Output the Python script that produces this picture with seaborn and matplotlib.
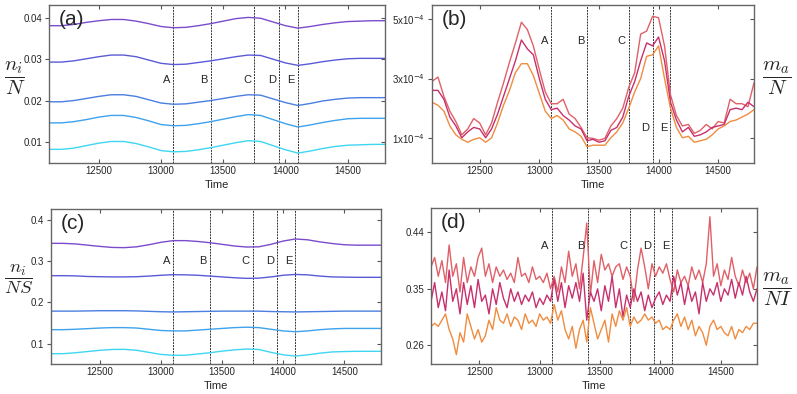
import numpy as np
import pandas as pd
import matplotlib
matplotlib.use('Agg')
import matplotlib.pyplot as plt
import matplotlib.lines as mlines
import seaborn as sns

# smooth panels (a) and (c): one value every 100 time units, 12100..14800
t_smooth = np.arange(12100, 14801, 100)

a_series = [
    [.0381, .0381, .0384, .0389, .0393, .0396, .0396, .0392, .0386, .0379, .0376, .0377, .0381, .0386,
     .0392, .0398, .0401, .0399, .0390, .0381, .0375, .0379, .0384, .0388, .0391, .0392, .0393, .0393],
    [.0293, .0293, .0296, .0301, .0306, .0310, .0310, .0306, .0298, .0290, .0287, .0288, .0292, .0296,
     .0301, .0306, .0310, .0309, .0300, .0291, .0285, .0289, .0294, .0298, .0301, .0302, .0302, .0302],
    [.0197, .0197, .0200, .0205, .0210, .0214, .0214, .0210, .0202, .0194, .0191, .0192, .0196, .0200,
     .0205, .0210, .0214, .0213, .0204, .0195, .0188, .0193, .0199, .0203, .0206, .0207, .0207, .0207],
    [.0146, .0146, .0149, .0154, .0160, .0164, .0164, .0159, .0151, .0142, .0139, .0140, .0144, .0149,
     .0155, .0161, .0166, .0164, .0154, .0144, .0136, .0141, .0147, .0152, .0156, .0157, .0157, .0157],
    [.0082, .0082, .0085, .0091, .0097, .0101, .0101, .0096, .0088, .0079, .0076, .0077, .0081, .0086,
     .0092, .0098, .0103, .0101, .0091, .0081, .0073, .0078, .0084, .0089, .0092, .0093, .0094, .0094],
]

c_series = [
    [.3434, .3434, .342, .339, .336, .3335, .333, .335, .340, .346, .350, .350, .348, .345,
     .341, .337, .3345, .335, .341, .349, .354, .352, .347, .343, .340, .339, .339, .339],
    [.265, .265, .2645, .263, .2625, .262, .262, .2625, .264, .266, .2674, .267, .266, .264,
     .262, .260, .2585, .259, .262, .266, .268, .267, .264, .262, .2615, .261, .261, .261],
    [.179, .179, .179, .1795, .180, .180, .180, .1795, .1785, .1775, .177, .1775, .178, .1785,
     .179, .179, .179, .179, .178, .1775, .177, .1775, .178, .1785, .179, .179, .179, .179],
    [.134, .134, .135, .1365, .138, .139, .139, .138, .135, .132, .131, .131, .133, .135,
     .137, .139, .140, .139, .135, .131, .129, .131, .134, .136, .137, .137, .137, .137],
    [.0758, .0758, .078, .081, .084, .086, .0863, .084, .079, .074, .0718, .072, .075, .078,
     .082, .085, .087, .086, .079, .073, .070, .073, .077, .080, .081, .0815, .0815, .0815],
]

# panel (b): every 50 time units, values in units of 1e-4
t_b = np.arange(12100, 14801, 50)
b_red = [2.9, 3.05, 2.4, 1.9, 1.55, 1.1, 1.3, 1.65, 1.5, 1.1, 1.5, 2.2, 2.85, 3.55, 4.2, 4.9, 4.65, 4.1,
         3.3, 2.55, 2.15, 2.15, 2.3, 1.8, 1.65, 1.35, 1.0, 0.98, 0.92, 0.98, 1.4, 1.65, 2.0, 2.7, 3.2, 4.5,
         4.6, 5.1, 5.05, 4.1, 2.45, 1.75, 1.4, 1.45, 1.15, 1.25, 1.45, 1.3, 1.55, 1.5, 2.3, 2.15, 2.15,
         2.05, 2.85]
b_magenta = [2.6, 2.6, 2.3, 1.7, 1.4, 1.0, 1.2, 1.35, 1.3, 1.0, 1.3, 1.8, 2.4, 3.0, 3.6, 4.3, 4.0, 3.8,
             3.0, 2.3, 1.95, 2.0, 1.75, 1.6, 1.4, 1.3, 0.9, 0.95, 0.85, 0.9, 1.25, 1.35, 1.7, 2.4, 2.9,
             3.6, 4.2, 4.1, 4.4, 3.6, 2.2, 1.6, 1.2, 1.35, 1.05, 1.1, 1.2, 1.35, 1.4, 1.45, 1.95, 2.0,
             1.95, 2.2, 2.05]
b_orange = [2.2, 2.1, 1.9, 1.4, 1.1, 0.95, 0.85, 0.95, 1.0, 0.85, 1.0, 1.5, 2.1, 2.6, 3.2, 3.5, 3.5, 3.1,
            2.5, 1.9, 1.65, 1.75, 1.6, 1.3, 1.2, 1.05, 0.7, 0.75, 0.75, 0.75, 1.0, 1.2, 1.5, 2.0, 2.55,
            3.0, 3.75, 3.8, 4.1, 3.0, 2.0, 1.35, 1.0, 1.05, 0.85, 0.9, 0.95, 1.1, 1.3, 1.4, 1.55, 1.6,
            1.7, 1.8, 1.95]

# panel (d): every 30 time units
t_d = np.arange(12100, 14801, 30)
d_red = [.385, .40, .37, .395, .36, .42, .37, .39, .345, .40,
         .36, .385, .37, .40, .415, .37, .39, .36, .385, .37,
         .38, .365, .375, .36, .40, .37, .375, .36, .385, .365,
         .37, .36, .375, .35, .37, .345, .385, .36, .41, .37,
         .39, .35, .40, .455, .34, .395, .36, .405, .38, .39,
         .37, .385, .39, .365, .385, .37, .33, .38, .415, .385,
         .35, .39, .37, .385, .375, .39, .365, .345, .38, .36,
         .37, .355, .385, .365, .38, .36, .39, .465, .37, .39,
         .355, .38, .365, .40, .37, .355, .38, .36, .375, .35, .385]
d_magenta = [.33, .36, .32, .345, .315, .38, .33, .35, .31, .36,
             .325, .355, .32, .365, .33, .34, .31, .35, .325, .36,
             .335, .32, .35, .33, .345, .325, .34, .33, .345, .32,
             .335, .325, .34, .33, .365, .33, .36, .32, .355, .335,
             .36, .33, .375, .30, .345, .33, .35, .315, .355, .33,
             .37, .32, .35, .305, .34, .32, .35, .33, .345, .315,
             .34, .32, .335, .345, .325, .34, .33, .37, .34, .36,
             .325, .355, .33, .345, .31, .36, .33, .35, .34, .36,
             .33, .35, .34, .365, .335, .36, .34, .37, .345, .33, .35]
d_orange = [.29, .295, .29, .30, .31, .285, .27, .245, .28, .265,
            .31, .29, .27, .285, .265, .275, .30, .285, .32, .30,
            .295, .31, .29, .305, .30, .285, .31, .295, .30, .29,
            .31, .30, .305, .295, .325, .30, .315, .285, .27, .29,
            .255, .285, .30, .265, .32, .295, .27, .285, .30, .265,
            .31, .29, .315, .30, .32, .29, .305, .295, .30, .31,
            .30, .305, .295, .30, .285, .29, .285, .30, .31, .29,
            .305, .285, .30, .275, .29, .28, .26, .29, .30, .285,
            .29, .28, .275, .29, .27, .285, .28, .29, .285, .295, .295]

event_times = [13100, 13400, 13750, 13950, 14100]
event_names = ['A', 'B', 'C', 'D', 'E']

blues = ['#7a4ccc', '#5a5ad8', '#4a7ee0', '#3ea2ec', '#3fd6f2']
warm = {'red': '#e06068', 'magenta': '#c8306c', 'orange': '#f08c40'}

sns.set_style('ticks')
plt.rcParams['font.family'] = ['Liberation Sans', 'DejaVu Sans']

fig = plt.figure(figsize=(7.97, 3.94), dpi=100)
ax_a = fig.add_axes([0.0615, 0.5863, 0.4216, 0.401])
ax_b = fig.add_axes([0.542, 0.5863, 0.404, 0.401])
ax_c = fig.add_axes([0.064, 0.0761, 0.414, 0.3934])
ax_d = fig.add_axes([0.5408, 0.0761, 0.409, 0.396])


def style_axes(ax, letter):
    ax.set_xlim(12100, 14800)
    ax.set_xticks([12500, 13000, 13500, 14000, 14500])
    ax.tick_params(axis='both', labelsize=7, length=3, width=0.8, color='#555555', pad=2)
    ax.tick_params(axis='x', direction='in', top=True)
    ax.tick_params(axis='y', direction='out', right=True)
    # right-hand ticks point inwards, left-hand ones outwards
    for tk in ax.yaxis.get_major_ticks():
        tk.tick2line.set_marker(mlines.TICKLEFT)
    for s in ax.spines.values():
        s.set_color('#666666')
        s.set_linewidth(1.0)
    ax.set_xlabel('Time', fontsize=8, labelpad=3)
    ax.set_ylabel('')
    ax.text(0.03, 0.97, letter, transform=ax.transAxes, fontsize=15, va='top', ha='left')
    if ax.get_legend():
        ax.get_legend().remove()


def events(ax, ys):
    for t, name, y in zip(event_times, event_names, ys):
        ax.axvline(t, color='#333333', lw=0.7, ls=(0, (2, 1)), zorder=1)
        ax.text(t - 25, y, name, fontsize=8, ha='right', va='center')


# (a)
for vals, col in zip(a_series, blues):
    sns.lineplot(x=t_smooth, y=vals, ax=ax_a, color=col, lw=1.0)
ax_a.set_ylim(0.0049, 0.0431)
ax_a.set_yticks([0.01, 0.02, 0.03, 0.04])
ax_a.set_yticklabels(['0.01', '0.02', '0.03', '0.04'])
events(ax_a, [0.025] * 5)
style_axes(ax_a, '(a)')

# (b)
df_b = pd.DataFrame({'Time': np.tile(t_b, 3),
                     'value': np.array(b_red + b_magenta + b_orange) * 1e-4,
                     'series': ['red'] * len(b_red) + ['magenta'] * len(b_magenta) + ['orange'] * len(b_orange)})
sns.lineplot(data=df_b, x='Time', y='value', hue='series', palette=warm, ax=ax_b, lw=1.0)
ax_b.set_ylim(0.15e-4, 5.48e-4)
ax_b.set_yticks([1e-4, 3e-4, 5e-4])
ax_b.set_yticklabels(['1x10$^{-4}$', '3x10$^{-4}$', '5x10$^{-4}$'])
events(ax_b, [4.28e-4, 4.28e-4, 4.28e-4, 1.32e-4, 1.32e-4])
style_axes(ax_b, '(b)')

# (c)
for vals, col in zip(c_series, blues):
    sns.lineplot(x=t_smooth, y=vals, ax=ax_c, color=col, lw=1.0)
ax_c.set_ylim(0.0507, 0.4267)
ax_c.set_yticks([0.1, 0.2, 0.3, 0.4])
ax_c.set_yticklabels(['0.1', '0.2', '0.3', '0.4'])
events(ax_c, [0.3] * 5)
style_axes(ax_c, '(c)')

# (d)
df_d = pd.DataFrame({'Time': np.tile(t_d, 3),
                     'value': d_red + d_magenta + d_orange,
                     'series': ['red'] * len(d_red) + ['magenta'] * len(d_magenta) + ['orange'] * len(d_orange)})
sns.lineplot(data=df_d, x='Time', y='value', hue='series', palette=warm, ax=ax_d, lw=1.0)
ax_d.set_ylim(0.230, 0.479)
ax_d.set_yticks([0.26, 0.35, 0.44])
ax_d.set_yticklabels(['0.26', '0.35', '0.44'])
events(ax_d, [0.418] * 5)
style_axes(ax_d, '(d)')

# fraction labels
frac_kw = dict(fontsize=15, ha='center', va='center', math_fontfamily='cm')
fig.text(0.019, 0.80, r'$\dfrac{n_i}{N}$', **frac_kw)
fig.text(0.975, 0.80, r'$\dfrac{m_a}{N}$', **frac_kw)
fig.text(0.023, 0.29, r'$\dfrac{n_i}{NS}$', fontsize=13.5, ha='center', va='center', math_fontfamily='cm')
fig.text(0.975, 0.266, r'$\dfrac{m_a}{NI}$', **frac_kw)

fig.savefig('out.png', dpi=100)
